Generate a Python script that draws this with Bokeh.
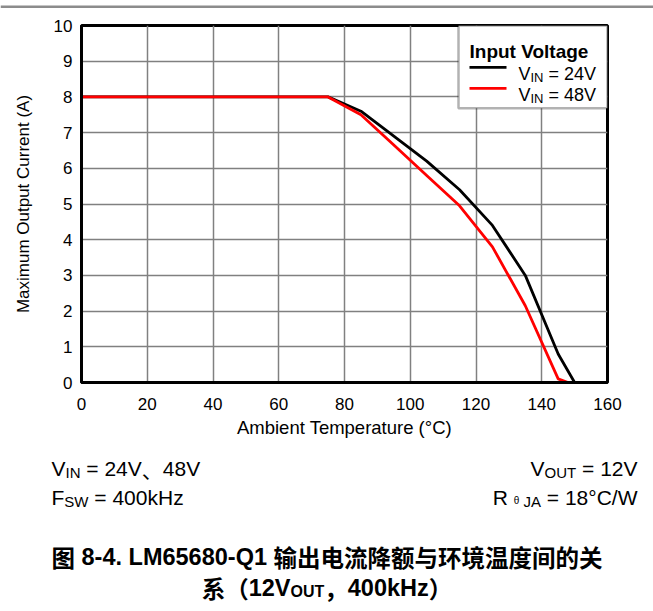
from bokeh.plotting import figure
from bokeh.models import Label, BoxAnnotation, Arrow, FixedTicker, Range1d
from bokeh.embed import file_html
from bokeh.resources import INLINE

# ---------------- data ----------------
temp_24v = [0, 75, 85, 95, 105, 115, 125, 135, 145, 150]
curr_24v = [8.0, 8.0, 7.6, 6.9, 6.2, 5.4, 4.4, 3.0, 0.8, 0.0]
temp_48v = [0, 75, 85, 95, 105, 115, 125, 135, 145, 148]
curr_48v = [8.0, 8.0, 7.5, 6.65, 5.8, 4.95, 3.8, 2.15, 0.1, 0.0]
x_ticks = [0, 20, 40, 60, 80, 100, 120, 140, 160]
y_ticks = [0, 1, 2, 3, 4, 5, 6, 7, 8, 9, 10]

FONT = "Liberation Sans, Noto Sans CJK SC"
CJK = "Noto Sans CJK SC"
NB = "\u00a0"

W = 653
STRIP_H = 12
CHART_H = 428
BOTTOM_H = 171

# page-pixel geometry of the plot frame
FL, FR, FT, FB = 81, 607, 25, 383
X0, X1, Y0, Y1 = 0, 160, 0, 10


def dx(px):
    return X0 + (px - FL) * (X1 - X0) / (FR - FL)


def dy(py):
    return Y0 + (FB - py) * (Y1 - Y0) / (FB - FT)


def bare(fig):
    fig.axis.visible = False
    fig.grid.visible = False
    fig.outline_line_color = None
    fig.background_fill_color = "white"
    fig.border_fill_color = "white"
    return fig


# ---------------- top grey rule ----------------
strip = bare(figure(width=W, height=STRIP_H, x_range=Range1d(0, W),
                    y_range=Range1d(STRIP_H, 0), output_backend="svg",
                    toolbar_location=None, min_border=0))
strip.add_layout(BoxAnnotation(left=0, right=W, top=5, bottom=7.5,
                               fill_color="#8c8c8c", fill_alpha=1.0, line_color=None))

# ---------------- chart ----------------
p = figure(width=W, height=CHART_H, x_range=(X0, X1), y_range=(Y0, Y1),
           output_backend="svg", toolbar_location=None,
           min_border_left=FL, min_border_right=W - FR,
           min_border_top=FT - STRIP_H,
           min_border_bottom=STRIP_H + CHART_H - FB)

p.outline_line_color = "black"
p.outline_line_width = 3
p.background_fill_color = "white"
p.border_fill_color = "white"

for ax in (p.xaxis, p.yaxis):
    ax.axis_line_color = "black"
    ax.axis_line_width = 3
    ax.major_tick_line_color = None
    ax.minor_tick_line_color = None
    ax.major_tick_in = 0
    ax.major_tick_out = 0
    ax.major_label_text_font = FONT
    ax.major_label_text_font_size = "17px"
    ax.major_label_text_color = "black"
    ax.axis_label_text_font = FONT
    ax.axis_label_text_font_style = "normal"
    ax.axis_label_text_color = "black"

p.xaxis.ticker = FixedTicker(ticks=x_ticks)
p.yaxis.ticker = FixedTicker(ticks=y_ticks)
p.xaxis.major_label_standoff = 15
p.yaxis.major_label_standoff = 9
p.xaxis.axis_label = "Ambient Temperature (°C)"
p.yaxis.axis_label = "Maximum Output Current (A)"
p.xaxis.axis_label_text_font_size = "18.5px"
p.yaxis.axis_label_text_font_size = "17px"
p.xaxis.axis_label_standoff = 4
p.yaxis.axis_label_standoff = 18

p.grid.grid_line_color = "#808080"
p.grid.grid_line_width = 1.5
p.xgrid.ticker = FixedTicker(ticks=x_ticks)
p.ygrid.ticker = FixedTicker(ticks=y_ticks)

p.line(temp_24v, curr_24v, line_color="black", line_width=2.8)
p.line(temp_48v, curr_48v, line_color="#ff0000", line_width=2.8)

# ---------------- text helpers ----------------
REG = {' ': .278, NB: .278, '=': .584, 'V': .667, 'I': .278, 'N': .722,
       'O': .778, 'U': .722, 'T': .611, 'F': .611, 'S': .667, 'W': .944,
       'R': .722, 'J': .5, 'A': .667, 'k': .5, 'H': .722, 'z': .5, '°': .4,
       'C': .722, '/': .278, 'θ': .556, '.': .278, '-': .333, 'L': .556,
       'M': .833, 'Q': .778}
BOLD = dict(REG)
BOLD.update({'k': .556, 'L': .611, '-': .333})


def tw(s, size, bold=False):
    tab = BOLD if bold else REG
    w = 0.0
    for ch in s:
        if ord(ch) > 0x2000:
            w += 1.0
        elif ch.isdigit():
            w += .556
        else:
            w += tab.get(ch, .556)
    return w * size


def run(fig, mx, my, pieces, x, base, align="left"):
    total = sum(tw(t, s, b) for t, s, b, o in pieces)
    if align == "right":
        x -= total
    elif align == "center":
        x -= total / 2
    for t, s, b, o in pieces:
        font = CJK if all(ord(c) > 0x2000 for c in t) else FONT
        fig.add_layout(Label(x=mx(x), y=my(base + o), text=t.replace(" ", NB),
                             text_font=font, text_font_size=f"{s}px",
                             text_font_style="bold" if b else "normal",
                             text_baseline="alphabetic", text_align="left",
                             text_color="black"))
        x += tw(t, s, b)


# ---------------- legend (inside the chart frame) ----------------
p.add_layout(BoxAnnotation(left=dx(458), right=X1, bottom=dy(108), top=Y1,
                           fill_color="white", fill_alpha=1.0,
                           line_color="black", line_width=2.5))
run(p, dx, dy, [("Input Voltage", 19, True, 0)], 469, 51)
p.add_layout(Arrow(end=None, x_start=dx(469), y_start=dy(67), x_end=dx(506),
                   y_end=dy(67), line_color="black", line_width=2.8))
p.add_layout(Arrow(end=None, x_start=dx(469), y_start=dy(88), x_end=dx(506),
                   y_end=dy(88), line_color="#ff0000", line_width=2.8))
run(p, dx, dy, [("V", 18, False, 0), ("IN", 13, False, 3), (" = 24V", 18, False, 0)], 518, 74)
run(p, dx, dy, [("V", 18, False, 0), ("IN", 13, False, 3), (" = 48V", 18, False, 0)], 518, 95)

# ---------------- conditions and caption (bottom panel, page pixels) ----------------
TOP_B = STRIP_H + CHART_H
bot = bare(figure(width=W, height=BOTTOM_H, x_range=Range1d(0, W),
                  y_range=Range1d(TOP_B + BOTTOM_H, TOP_B), output_backend="svg",
                  toolbar_location=None, min_border=0))


def ident(v):
    return v


run(bot, ident, ident, [("V", 21, False, 0), ("IN", 15, False, 4), (" = 24V", 21, False, 0),
                        ("、", 21, False, 0), ("48V", 21, False, 0)], 51, 468)
run(bot, ident, ident, [("F", 21, False, 0), ("SW", 15, False, 4), (" = 400kHz", 21, False, 0)], 51, 497)
run(bot, ident, ident, [("V", 21, False, 0), ("OUT", 15, False, 4), (" = 12V", 21, False, 0)], 637, 468, "right")
run(bot, ident, ident, [("R ", 21, False, 0), ("θ", 10, False, 3), (" JA", 15, False, 4),
                        (" = 18°C/W", 21, False, 0)], 637, 497, "right")

run(bot, ident, ident, [("图", 23.5, True, 0), (" 8-4. LM65680-Q1 ", 23.5, True, 0),
                        ("输出电流降额与环境温度间的关", 23.5, True, 0)], 326.5, 556, "center")
run(bot, ident, ident, [("系（", 23.5, True, 0), ("12V", 23.5, True, 0), ("OUT", 16, True, 4),
                        ("，", 23.5, True, 0), ("400kHz", 23.5, True, 0), ("）", 23.5, True, 0)],
    326.5, 587, "center")

open("out.html", "w").write(file_html([strip, p, bot], INLINE))
